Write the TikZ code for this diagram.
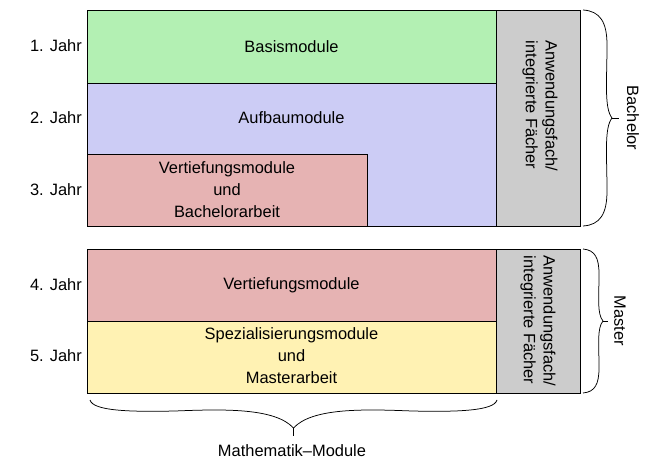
\documentclass[tikz,border=0pt]{standalone}
\usepackage{fontspec}
\setmainfont{Liberation Sans}
\definecolor{cgreen}{RGB}{179,240,179}
\definecolor{cpurple}{RGB}{204,204,245}
\definecolor{cred}{RGB}{230,179,179}
\definecolor{cyellow}{RGB}{255,242,179}
\definecolor{cgray}{RGB}{204,204,204}
\begin{document}
\begin{tikzpicture}[x=1bp,y=-1bp,
  font=\fontsize{16.5}{22}\selectfont,
  box/.style={draw=black, line width=0.8bp},
  lbl/.style={align=center, inner sep=0pt},
  side/.style={rotate=-90, align=left, inner sep=0pt, font=\fontsize{16.5}{20}\selectfont},
  year/.style={anchor=east, inner sep=0pt},
  brc/.style={draw=black, line width=0.75bp}]
\useasboundingbox (0,0) rectangle (652,461);
% Bachelor block
\draw[box, fill=cgreen] (87,10) rectangle (496,83);
\draw[box, fill=cpurple] (87,83) rectangle (496,226);
\draw[box, fill=cred] (87,154) rectangle (367,226);
\draw[box, fill=cgray] (496,10) rectangle (580,226);
\node[lbl] (basis) at (291.5,46.5) {Basismodule};
\node[lbl] (aufbau) at (291.5,118) {Aufbaumodule};
\node[lbl] (vertb) at (227,190) {Vertiefungsmodule\\und\\Bachelorarbeit};
\node[side] (anwb) at (540,106) {Anwendungsfach/\\integrierte Fächer};
% Master block
\draw[box, fill=cred] (87,249) rectangle (496,321);
\draw[box, fill=cyellow] (87,321) rectangle (496,393);
\draw[box, fill=cgray] (496,249) rectangle (580,393);
\node[lbl] (vertm) at (291.5,285) {Vertiefungsmodule};
\node[lbl] (spez) at (291.5,356) {Spezialisierungsmodule\\und\\Masterarbeit};
\node[side] (anwm) at (538,321) {Anwendungsfach/\\integrierte Fächer};
% years
\node[year] (j1) at (82,46) {1. Jahr};
\node[year] (j2) at (82,118) {2. Jahr};
\node[year] (j3) at (82,190) {3. Jahr};
\node[year] (j4) at (82,285) {4. Jahr};
\node[year] (j5) at (82,356) {5. Jahr};
% Bachelor brace
\coordinate (bt) at (583,10);
\coordinate (bb) at (583,226);
\coordinate (bc) at (612,118);
\coordinate (bs) at (619,118);
\draw[brc] (bt) .. controls (600,11) and (607,22) .. (607,45)
  .. controls (607,80) and (604,108) .. (bc)
  .. controls (604,128) and (607,156) .. (607,191)
  .. controls (607,214) and (600,225) .. (bb);
\draw[brc] (bc) -- (bs);
\node[rotate=-90, inner sep=0pt] (bach) at (633,118) {Bachelor};
% Master brace
\coordinate (mt) at (583,249);
\coordinate (mb) at (583,393);
\coordinate (mc) at (603,321);
\coordinate (ms) at (608,321);
\draw[brc] (mt) .. controls (595,250) and (599,258) .. (599,274)
  .. controls (599,298) and (597,314) .. (mc)
  .. controls (597,328) and (599,344) .. (599,368)
  .. controls (599,384) and (595,392) .. (mb);
\draw[brc] (mc) -- (ms);
\node[rotate=-90, inner sep=0pt] (mast) at (620,321) {Master};
% Mathematik brace
\coordinate (ml) at (90,400);
\coordinate (mr) at (497,400);
\coordinate (mm) at (293.5,428);
\coordinate (mms) at (293.5,436);
\draw[brc] (ml) .. controls (93,411) and (130,412) .. (175,411)
  .. controls (225,409) and (275,408) .. (mm)
  .. controls (312,408) and (362,409) .. (412,411)
  .. controls (457,412) and (494,411) .. (mr);
\draw[brc] (mm) -- (mms);
\node[inner sep=0pt] (math) at (292,451) {Mathematik–Module};
\end{tikzpicture}
\end{document}
